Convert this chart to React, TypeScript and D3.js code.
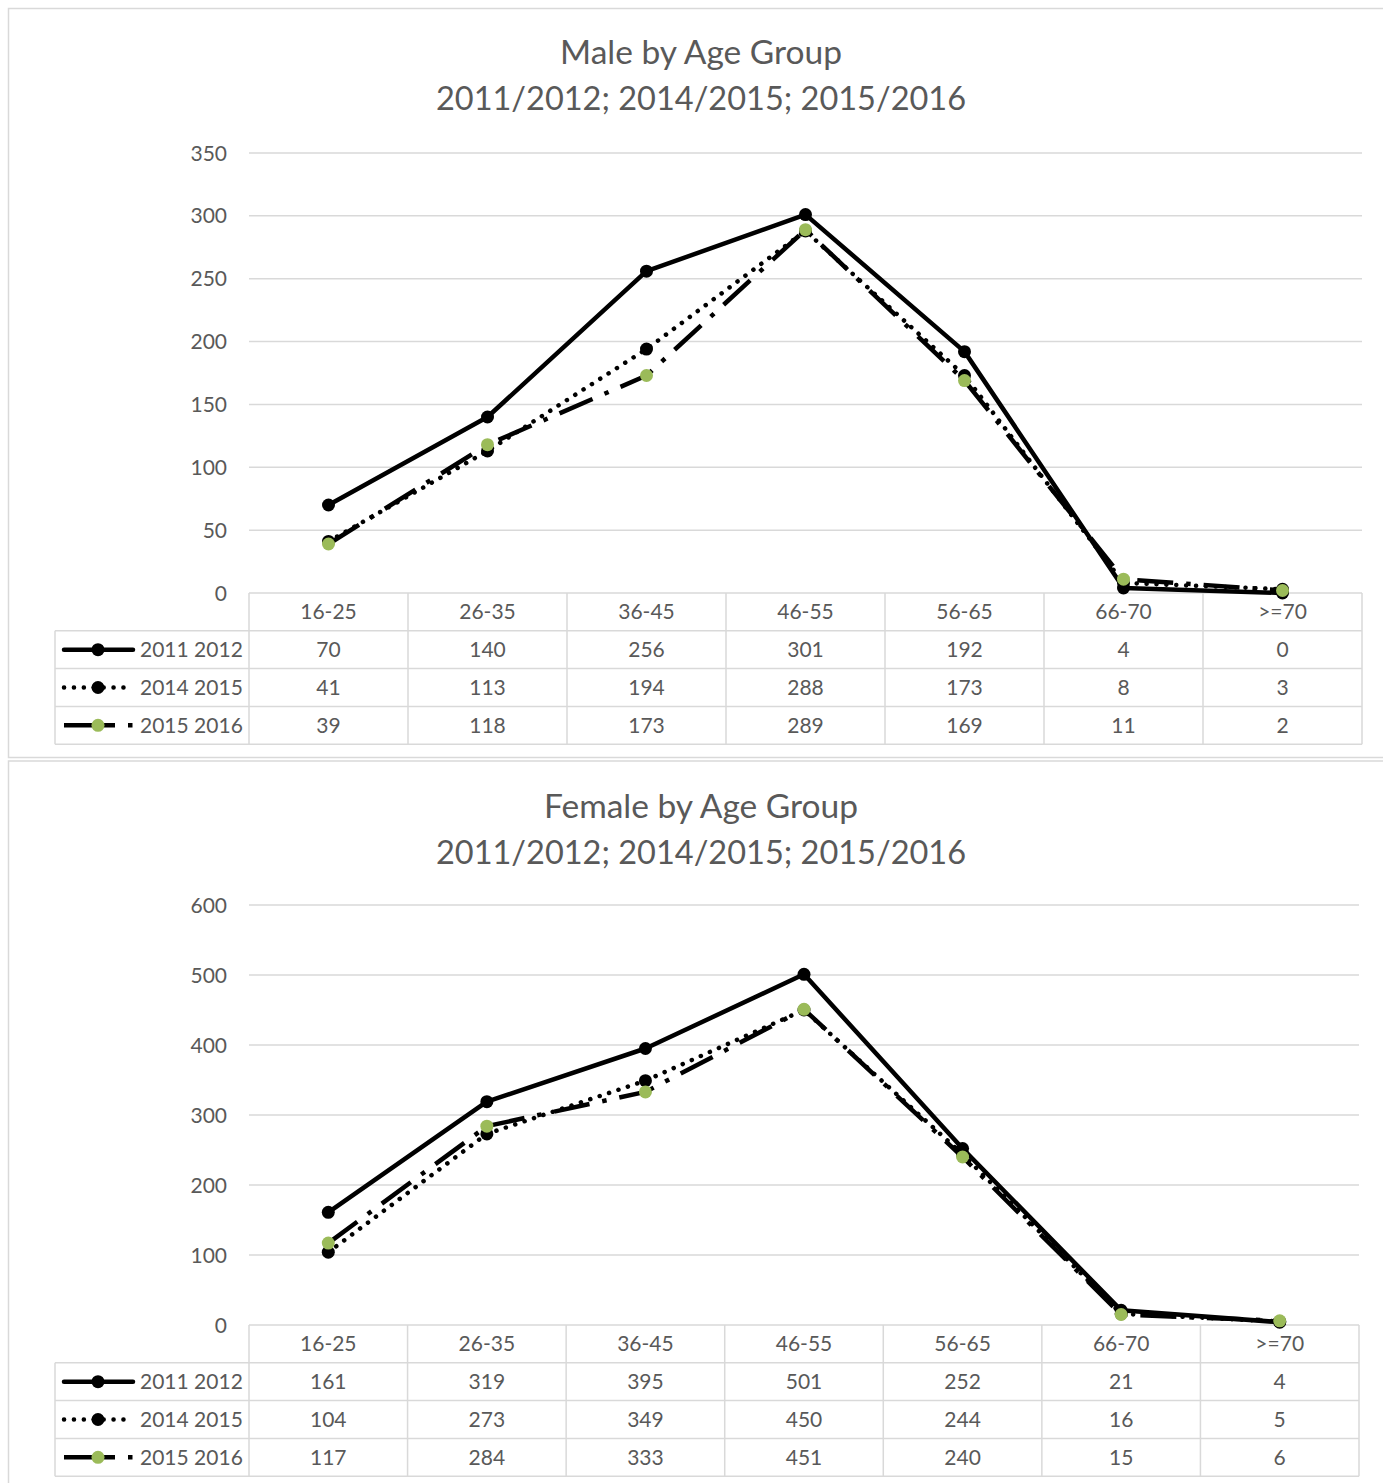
import React, { useEffect, useRef } from 'react';
import * as d3 from 'd3';

const categories = ['16-25', '26-35', '36-45', '46-55', '56-65', '66-70', '>=70'];
const seriesNames = ['2011 2012', '2014 2015', '2015 2016'];

const male2011 = [70, 140, 256, 301, 192, 4, 0];
const male2014 = [41, 113, 194, 288, 173, 8, 3];
const male2015 = [39, 118, 173, 289, 169, 11, 2];

const female2011 = [161, 319, 395, 501, 252, 21, 4];
const female2014 = [104, 273, 349, 450, 244, 16, 5];
const female2015 = [117, 284, 333, 451, 240, 15, 6];

const maleTicks = [0, 50, 100, 150, 200, 250, 300, 350];
const femaleTicks = [0, 100, 200, 300, 400, 500, 600];

const TEXT = '#595959';
const GRID = '#d9d9d9';
const GREEN = '#9bbb59';
const FONT = 'Lato, "Open Sans", sans-serif';

interface ChartConf {
  title: string;
  subtitle: string;
  values: number[][];
  ticks: number[];
  boxTop: number;
  boxBottom: number;
  titleY: number;
  plotTop: number;
  plotBottom: number;
  plotRight: number;
  rowH: number;
}

const charts: ChartConf[] = [
  {
    title: 'Male by Age Group',
    subtitle: '2011/2012; 2014/2015; 2015/2016',
    values: [male2011, male2014, male2015],
    ticks: maleTicks,
    boxTop: 8.5,
    boxBottom: 757.5,
    titleY: 51,
    plotTop: 153,
    plotBottom: 593,
    plotRight: 1362,
    rowH: 37.8
  },
  {
    title: 'Female by Age Group',
    subtitle: '2011/2012; 2014/2015; 2015/2016',
    values: [female2011, female2014, female2015],
    ticks: femaleTicks,
    boxTop: 761,
    boxBottom: 1500,
    titleY: 805,
    plotTop: 905,
    plotBottom: 1325,
    plotRight: 1359,
    rowH: 37.8
  }
];

// line styles per series (Excel: solid, round dot, long dash dot)
const styles = [
  { dash: null as string | null, keyDash: null as string | null, cap: 'round', marker: '#000' },
  { dash: '0.1,9.8', keyDash: '0.1,9.8', cap: 'round', marker: '#000' },
  { dash: '36,13,4.5,13', keyDash: '51,13,4.5,13', cap: 'butt', marker: GREEN }
];

const App = () => {
  const svgRef = useRef(null);

  useEffect(() => {
    const width = 1383;
    const height = 1483;
    const plotLeft = 249;
    const legendLeft = 55;

    d3.select(svgRef.current).selectAll('*').remove();
    const svg = d3.select(svgRef.current)
      .attr('width', width)
      .attr('height', height)
      .style('font-family', FONT);

    charts.forEach(c => {
      const g = svg.append('g');

      // chart frame
      g.append('rect')
        .attr('x', 8.5)
        .attr('y', c.boxTop)
        .attr('width', 1420)
        .attr('height', c.boxBottom - c.boxTop)
        .attr('fill', '#fff')
        .attr('stroke', GRID)
        .attr('stroke-width', 1.5);

      // title
      g.append('text')
        .attr('x', 701)
        .attr('y', c.titleY)
        .attr('text-anchor', 'middle')
        .attr('dominant-baseline', 'central')
        .attr('fill', TEXT)
        .style('font-size', '33.5px')
        .text(c.title);
      g.append('text')
        .attr('x', 701)
        .attr('y', c.titleY + 46)
        .attr('text-anchor', 'middle')
        .attr('dominant-baseline', 'central')
        .attr('fill', TEXT)
        .style('font-size', '32.5px')
        .text(c.subtitle);

      const x = d3.scaleBand()
        .domain(categories)
        .range([plotLeft, c.plotRight])
        .padding(0);

      const y = d3.scaleLinear()
        .domain([0, d3.max(c.ticks)!])
        .range([c.plotBottom, c.plotTop]);

      // gridlines
      g.append('g')
        .selectAll('line')
        .data(c.ticks.slice(1))
        .join('line')
        .attr('x1', plotLeft)
        .attr('x2', c.plotRight)
        .attr('y1', d => y(d))
        .attr('y2', d => y(d))
        .attr('stroke', GRID)
        .attr('stroke-width', 1.5);

      // y tick labels
      g.append('g')
        .selectAll('text')
        .data(c.ticks)
        .join('text')
        .attr('x', 227)
        .attr('y', d => y(d) - 1)
        .attr('text-anchor', 'end')
        .attr('dominant-baseline', 'central')
        .attr('fill', TEXT)
        .style('font-size', '21px')
        .text(d => d);

      // data table
      const rowTop = c.plotBottom;
      const rows = [rowTop, ...seriesNames.map((_, i) => rowTop + c.rowH * (i + 1))];
      const tableBottom = rowTop + c.rowH * 4;
      const tbl = g.append('g')
        .attr('stroke', GRID)
        .attr('stroke-width', 1.5);

      // horizontal lines
      tbl.append('line')
        .attr('x1', plotLeft).attr('x2', c.plotRight)
        .attr('y1', rowTop).attr('y2', rowTop);
      rows.slice(1).concat([tableBottom]).forEach(ry => {
        tbl.append('line')
          .attr('x1', legendLeft).attr('x2', c.plotRight)
          .attr('y1', ry).attr('y2', ry);
      });
      // vertical lines
      tbl.append('line')
        .attr('x1', legendLeft).attr('x2', legendLeft)
        .attr('y1', rows[1]).attr('y2', tableBottom);
      categories.forEach(cat => {
        const cx = x(cat)!;
        tbl.append('line')
          .attr('x1', cx).attr('x2', cx)
          .attr('y1', rowTop).attr('y2', tableBottom);
      });
      tbl.append('line')
        .attr('x1', c.plotRight).attr('x2', c.plotRight)
        .attr('y1', rowTop).attr('y2', tableBottom);

      // category header
      g.append('g')
        .selectAll('text')
        .data(categories)
        .join('text')
        .attr('x', d => x(d)! + x.bandwidth() / 2)
        .attr('y', rowTop + c.rowH / 2 - 1)
        .attr('text-anchor', 'middle')
        .attr('dominant-baseline', 'central')
        .attr('fill', TEXT)
        .style('font-size', '21px')
        .text(d => d);

      // table values + legend keys
      c.values.forEach((vals, si) => {
        const cy = rows[si + 1] + c.rowH / 2;
        const st = styles[si];
        g.append('g')
          .selectAll('text')
          .data(vals)
          .join('text')
          .attr('x', (_, i) => x(categories[i])! + x.bandwidth() / 2)
          .attr('y', cy - 1)
          .attr('text-anchor', 'middle')
          .attr('dominant-baseline', 'central')
          .attr('fill', TEXT)
          .style('font-size', '21px')
          .text(d => d);

        const key = g.append('line')
          .attr('x1', 64).attr('x2', 133)
          .attr('y1', cy).attr('y2', cy)
          .attr('stroke', '#000')
          .attr('stroke-width', 4.5)
          .attr('stroke-linecap', st.cap);
        if (st.keyDash) key.attr('stroke-dasharray', st.keyDash);
        g.append('circle')
          .attr('cx', 98).attr('cy', cy).attr('r', 6.5)
          .attr('fill', st.marker);
        g.append('text')
          .attr('x', 140)
          .attr('y', cy - 1)
          .attr('dominant-baseline', 'central')
          .attr('fill', TEXT)
          .style('font-size', '21px')
          .text(seriesNames[si]);
      });

      // lines and markers
      const line = d3.line<number>()
        .x((_, i) => x(categories[i])! + x.bandwidth() / 2)
        .y(d => y(d));

      c.values.forEach((vals, si) => {
        const st = styles[si];
        const path = g.append('path')
          .datum(vals)
          .attr('d', line)
          .attr('fill', 'none')
          .attr('stroke', '#000')
          .attr('stroke-width', 4.5)
          .attr('stroke-linejoin', 'round')
          .attr('stroke-linecap', st.cap);
        if (st.dash) path.attr('stroke-dasharray', st.dash);

        g.append('g')
          .selectAll('circle')
          .data(vals)
          .join('circle')
          .attr('cx', (_, i) => x(categories[i])! + x.bandwidth() / 2)
          .attr('cy', d => y(d))
          .attr('r', 6.5)
          .attr('fill', st.marker);
      });
    });
  }, []);

  return (
    <div style={{ position: 'absolute', left: 0, top: 0 }}>
      <svg ref={svgRef}></svg>
    </div>
  );
};

export default App;
